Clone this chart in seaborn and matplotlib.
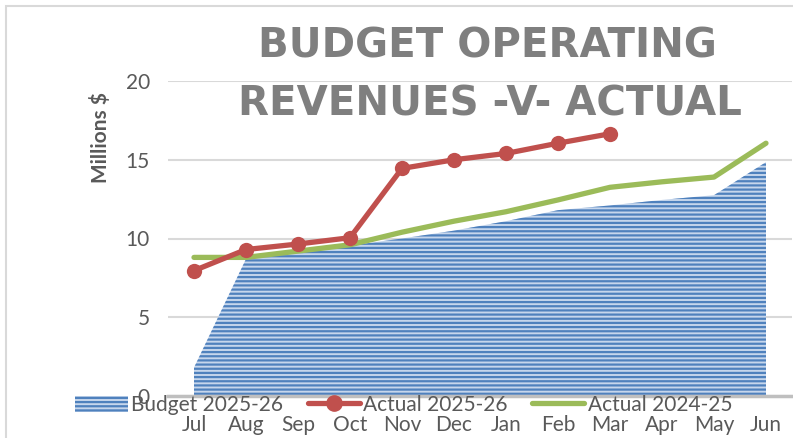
import matplotlib
matplotlib.use("Agg")
import matplotlib.pyplot as plt
import seaborn as sns
import pandas as pd
from matplotlib.patches import Rectangle, Patch
from matplotlib.lines import Line2D

# Data (millions $)
months = ["Jul", "Aug", "Sep", "Oct", "Nov", "Dec", "Jan", "Feb", "Mar", "Apr", "May", "Jun"]
budget_2526 = [1.8, 8.7, 9.2, 9.55, 10.0, 10.5, 11.1, 11.8, 12.1, 12.45, 12.75, 14.85]
actual_2526 = [7.96, 9.3, 9.65, 10.05, 14.45, 15.0, 15.4, 16.05, 16.65]
actual_2425 = [8.8, 8.8, 9.2, 9.6, 10.4, 11.1, 11.7, 12.45, 13.25, 13.6, 13.9, 16.05]

blue = "#4f81bd"
red = "#c0504d"
green = "#9bbb59"
txt = "#595959"

sns.set_style("white")
plt.rcParams["font.family"] = ["Lato", "DejaVu Sans"]
plt.rcParams["hatch.linewidth"] = 1.6
plt.rcParams["hatch.color"] = blue

fig = plt.figure(figsize=(7.93, 4.38), dpi=100)
ax = fig.add_axes([168 / 793, 1 - 396 / 438, 624 / 793, 315 / 438])

pos = list(range(len(months)))
df_a = pd.DataFrame({"x": pos[:len(actual_2526)], "y": actual_2526})
df_b = pd.DataFrame({"x": pos, "y": actual_2425})

# budget area with horizontal stripes
ax.fill_between(pos, 0, budget_2526, facecolor="#c6d6ec", edgecolor=blue,
                hatch="----", linewidth=0, zorder=2)
sns.lineplot(data=df_b, x="x", y="y", ax=ax, color=green, linewidth=3.8,
             solid_capstyle="round", zorder=3)
sns.lineplot(data=df_a, x="x", y="y", ax=ax, color=red, linewidth=3.8,
             marker="o", markersize=11, markeredgewidth=0, zorder=4)

ax.set_xlim(-0.5, 11.5)
ax.set_ylim(0, 20)
ax.set_yticks([0, 5, 10, 15, 20])
ax.set_xticks(pos)
ax.set_xticklabels(months)
ax.tick_params(axis="both", length=0, labelsize=15, colors=txt)
ax.tick_params(axis="y", pad=13)
ax.tick_params(axis="x", pad=14)
ax.yaxis.grid(True, color="#d9d9d9", linewidth=1.5)
ax.set_axisbelow(True)
for s in ["top", "right", "left"]:
    ax.spines[s].set_visible(False)
ax.spines["bottom"].set_color("#bfbfbf")
ax.spines["bottom"].set_linewidth(2.5)
ax.set_xlabel("")
ax.set_ylabel("")

fig.text(100 / 793, 1 - 138 / 438, "Millions $", rotation=90, ha="center", va="center",
         fontsize=15, fontweight="bold", color=txt)

# title
fig.text(487 / 793, 1 - 47 / 438, "BUDGET OPERATING", ha="center", va="center",
         fontsize=29, fontweight="bold", color="#7f7f7f", family="DejaVu Sans")
fig.text(490 / 793, 1 - 105 / 438, "REVENUES -V- ACTUAL", ha="center", va="center",
         fontsize=29, fontweight="bold", color="#7f7f7f", family="DejaVu Sans")

# chart border
fig.patches.append(Rectangle((6 / 793, -0.05), 1.0, 1 - 6 / 438 + 0.05, transform=fig.transFigure,
                             fill=False, edgecolor="#d9d9d9", linewidth=1.5))

handles = [
    Patch(facecolor="#c6d6ec", edgecolor=blue, hatch="----", linewidth=0),
    Line2D([], [], color=red, linewidth=3.8, marker="o", markersize=11),
    Line2D([], [], color=green, linewidth=3.8),
]
labels = ["Budget 2025-26", "Actual 2025-26", "Actual 2024-25"]
fig.legend(handles, labels, loc="center left", bbox_to_anchor=(65 / 793, 1 - 405 / 438),
           ncol=3, frameon=False, fontsize=15, labelcolor=txt, handlelength=2.5,
           handletextpad=0.15, columnspacing=1.2, borderpad=0, handleheight=0.8)

fig.savefig("out.png", dpi=100)
